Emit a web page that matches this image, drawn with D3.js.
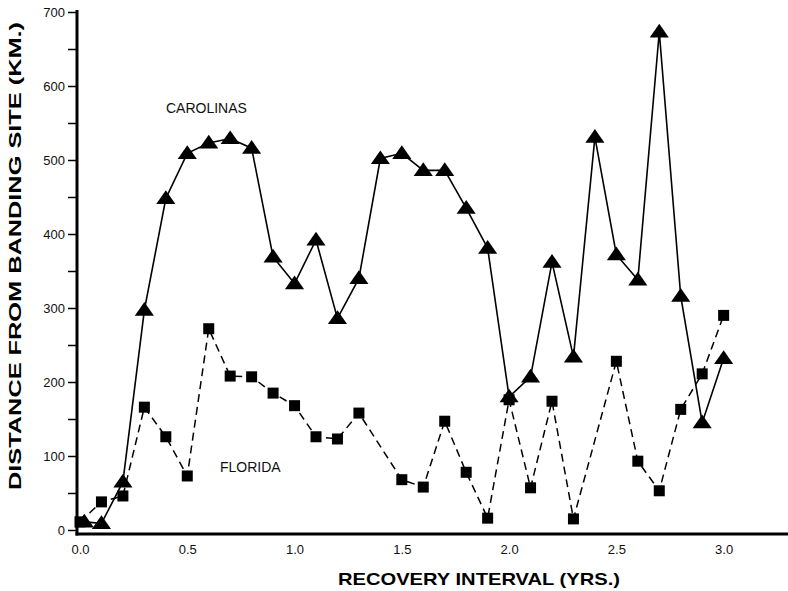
<!DOCTYPE html>
<html>
<head>
<meta charset="utf-8">
<script src="https://cdn.jsdelivr.net/npm/d3@7"></script>
<style>
  body { margin: 0; background: #fff; }
  svg { font-family: "Liberation Sans", Arial, sans-serif; }
</style>
</head>
<body>
<svg id="chart" width="788" height="591"></svg>
<script>
//////////////////// DATA ////////////////////
// recovery interval (yrs) and distance (km)
const carolinasYears = [0.02, 0.1, 0.2, 0.3, 0.4, 0.5, 0.6, 0.7, 0.8, 0.9, 1.0, 1.1, 1.2, 1.3, 1.4, 1.5,
    1.6, 1.7, 1.8, 1.9, 2.0, 2.1, 2.2, 2.3, 2.4, 2.5, 2.6, 2.7, 2.8, 2.9, 3.0];
const carolinasKm = [11, 9, 65, 297, 448, 509, 523, 529, 516, 369, 333, 392, 286, 340, 502, 509,
    486, 486, 435, 381, 180, 207, 362, 234, 531, 372, 338, 673, 316, 145, 232];

const floridaYears = [0.0, 0.1, 0.2, 0.3, 0.4, 0.5, 0.6, 0.7, 0.8, 0.9, 1.0, 1.1, 1.2, 1.3, 1.5,
    1.6, 1.7, 1.8, 1.9, 2.0, 2.1, 2.2, 2.3, 2.5, 2.6, 2.7, 2.8, 2.9, 3.0];
const floridaKm = [11, 38, 46, 166, 126, 73, 272, 208, 207, 185, 168, 126, 123, 158, 68,
    58, 147, 78, 16, 176, 57, 174, 15, 228, 93, 53, 163, 211, 290];

const xTickLabels = [0, 0.5, 1.0, 1.5, 2.0, 2.5, 3.0];
const yTickLabels = [0, 100, 200, 300, 400, 500, 600, 700];

//////////////////// SIZES ////////////////////
const svg = d3.select("#chart");
const plot = { left: 80, right: 788, top: 12, bottom: 530, axisY: 534, axisX: 77 };

const scaleX = d3.scaleLinear().domain([0, 3.3]).range([plot.left, plot.right]);
const scaleY = d3.scaleLinear().domain([0, 700]).range([plot.bottom, plot.top]);

//////////////////// AXES ////////////////////
// y axis, minor ticks every 50, labels every 100
const yAxis = d3.axisLeft(scaleY)
    .tickValues(d3.range(0, 701, 50))
    .tickSize(9)
    .tickPadding(3)
    .tickFormat(d => yTickLabels.includes(d) ? d : "");

const gy = svg.append("g")
    .attr("transform", `translate(${plot.axisX},0)`)
    .call(yAxis);
gy.select(".domain").remove();
gy.selectAll("line").attr("stroke", "#000").attr("stroke-width", 1.5);
gy.selectAll("text").attr("font-size", 13).attr("fill", "#111")
    .attr("font-family", "Liberation Sans, Arial, sans-serif");

svg.append("line")
    .attr("x1", plot.axisX).attr("x2", plot.axisX)
    .attr("y1", scaleY(700) - 2).attr("y2", plot.axisY + 1.5)
    .attr("stroke", "#000").attr("stroke-width", 3);

// x axis, labels only
const xAxis = d3.axisBottom(scaleX)
    .tickValues(xTickLabels)
    .tickSize(0)
    .tickPadding(11)
    .tickFormat(d3.format(".1f"));

const gx = svg.append("g")
    .attr("transform", `translate(0,${plot.axisY})`)
    .call(xAxis);
gx.select(".domain").remove();
gx.selectAll("text").attr("font-size", 13).attr("fill", "#111")
    .attr("font-family", "Liberation Sans, Arial, sans-serif");

svg.append("line")
    .attr("x1", plot.axisX - 1.5).attr("x2", plot.right)
    .attr("y1", plot.axisY).attr("y2", plot.axisY)
    .attr("stroke", "#000").attr("stroke-width", 3);

// axis titles
svg.append("text")
    .attr("transform", `translate(21,256) rotate(-90)`)
    .attr("text-anchor", "middle")
    .attr("font-size", 17)
    .attr("font-weight", "bold")
    .attr("textLength", 468)
    .attr("lengthAdjust", "spacingAndGlyphs")
    .text("DISTANCE FROM BANDING SITE (KM.)");

svg.append("text")
    .attr("x", 479)
    .attr("y", 585)
    .attr("text-anchor", "middle")
    .attr("font-size", 17)
    .attr("font-weight", "bold")
    .attr("textLength", 282)
    .attr("lengthAdjust", "spacingAndGlyphs")
    .text("RECOVERY INTERVAL (YRS.)");

//////////////////// LINES ////////////////////
const carolinas = carolinasYears.map((t, i) => ({ t: t, km: carolinasKm[i] }));
const florida = floridaYears.map((t, i) => ({ t: t, km: floridaKm[i] }));

const line = d3.line().x(d => scaleX(d.t)).y(d => scaleY(d.km));

svg.append("path")
    .datum(florida)
    .attr("d", line)
    .attr("fill", "none")
    .attr("stroke", "#000")
    .attr("stroke-width", 1.5)
    .attr("stroke-dasharray", "8,5");

svg.append("path")
    .datum(carolinas)
    .attr("d", line)
    .attr("fill", "none")
    .attr("stroke", "#000")
    .attr("stroke-width", 1.6);

//////////////////// MARKERS ////////////////////
svg.selectAll(".square")
    .data(florida)
    .enter()
    .append("rect")
    .attr("class", "square")
    .attr("x", d => scaleX(d.t) - 5.5)
    .attr("y", d => scaleY(d.km) - 5.5)
    .attr("width", 11)
    .attr("height", 11)
    .attr("fill", "#000");

const triangle = d3.symbol().type(d3.symbolTriangle).size(120);
svg.selectAll(".tri")
    .data(carolinas)
    .enter()
    .append("path")
    .attr("class", "tri")
    .attr("d", triangle)
    .attr("transform", d => `translate(${scaleX(d.t)},${scaleY(d.km) + 1}) scale(1.15,0.95)`)
    .attr("fill", "#000");

//////////////////// SERIES LABELS ////////////////////
svg.append("text")
    .attr("x", 166)
    .attr("y", 113)
    .attr("font-size", 14)
    .attr("fill", "#111")
    .text("CAROLINAS");

svg.append("text")
    .attr("x", 220)
    .attr("y", 472)
    .attr("font-size", 14)
    .attr("fill", "#111")
    .text("FLORIDA");
</script>
</body>
</html>
